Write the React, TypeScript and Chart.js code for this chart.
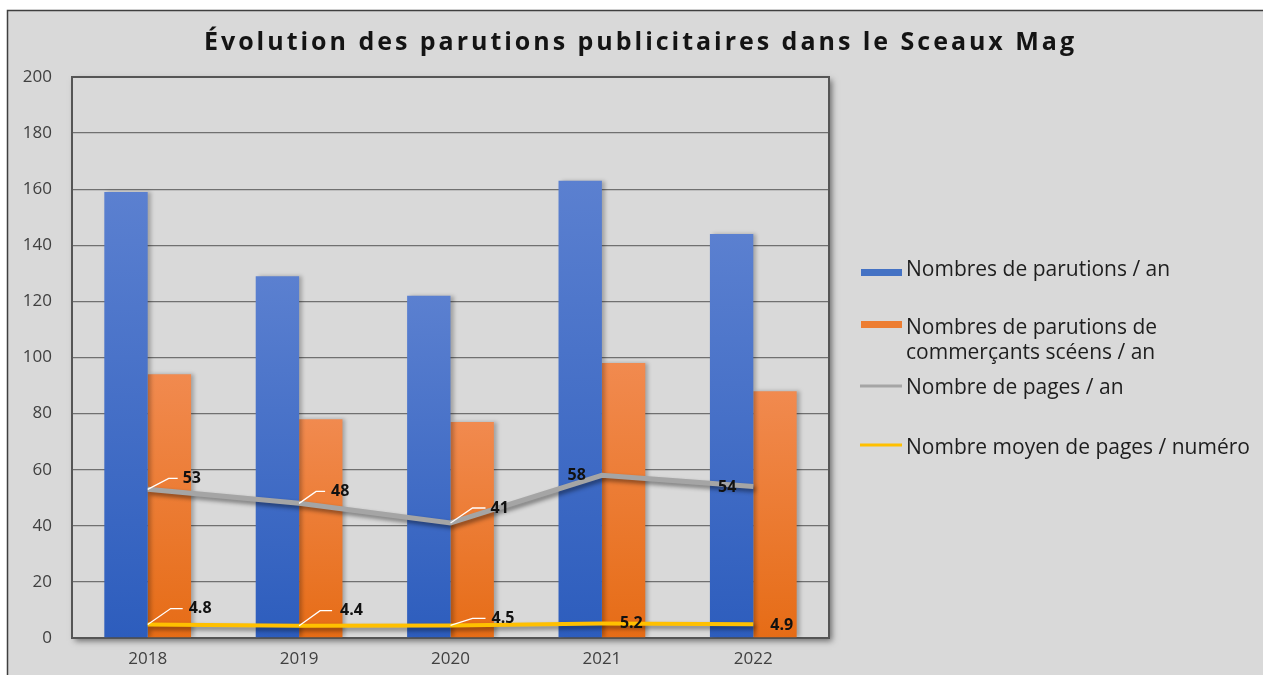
import React, { useEffect, useRef } from "react";
import { Chart, registerables } from "chart.js";

Chart.register(...registerables);

// ---------- Data ----------
const years: string[] = ["2018", "2019", "2020", "2021", "2022"];
const parutionsParAn: number[] = [159, 129, 122, 163, 144];
const parutionsSceens: number[] = [94, 78, 77, 98, 88];
const pagesParAn: number[] = [53, 48, 41, 58, 54];
const pagesParNumero: number[] = [4.8, 4.4, 4.5, 5.2, 4.9];

const yMin = 0;
const yMax = 200;
const yStep = 20;

const TITLE = "Évolution des parutions publicitaires dans le Sceaux Mag";
const seriesNames: string[][] = [
  ["Nombres de parutions / an"],
  ["Nombres de parutions de", "commerçants scéens / an"],
  ["Nombre de pages / an"],
  ["Nombre moyen de pages / numéro"],
];

// ---------- Styles / label placement (kept apart from data) ----------
const FONT = "'Open Sans', 'DejaVu Sans', sans-serif";
const BLUE = "#4472c4";
const ORANGE = "#ed7d31";
const GRAY = "#a5a5a5";
const YELLOW = "#ffc000";

type LabelPos = { dx: number; dy: number; align: CanvasTextAlign; leader?: number[][] };
const pagesAnLabels: LabelPos[] = [
  { dx: 35, dy: -11, align: "left", leader: [[21, -11], [30, -11]] },
  { dx: 32, dy: -12, align: "left", leader: [[17, -12], [26, -12]] },
  { dx: 40, dy: -15, align: "left", leader: [[22, -15], [35, -15]] },
  { dx: -16, dy: 0, align: "right" },
  { dx: -17, dy: 1, align: "right" },
];
const pagesNumLabels: LabelPos[] = [
  { dx: 41, dy: -16, align: "left", leader: [[23, -16], [35, -16]] },
  { dx: 41, dy: -15, align: "left", leader: [[21, -15], [33, -15]] },
  { dx: 41, dy: -7, align: "left", leader: [[22, -7], [35, -7]] },
  { dx: 18, dy: 0, align: "left" },
  { dx: 17, dy: 1, align: "left" },
];

function barGradient(top: string, bottom: string) {
  return (c: any) => {
    const chart = c.chart;
    const ys = chart.scales && chart.scales.y;
    if (!ys || c.raw == null) return top;
    const y0 = ys.getPixelForValue(c.raw);
    const y1 = ys.getPixelForValue(0);
    if (!isFinite(y0) || !isFinite(y1) || y1 - y0 < 1) return top;
    const g = chart.ctx.createLinearGradient(0, y0, 0, y1);
    g.addColorStop(0, top);
    g.addColorStop(1, bottom);
    return g;
  };
}

const decorPlugin = {
  id: "decor",
  beforeDraw(chart: any) {
    const ctx: CanvasRenderingContext2D = chart.ctx;
    const W = chart.width;
    const H = chart.height;
    const { left, top, right, bottom } = chart.chartArea;
    ctx.save();
    ctx.fillStyle = "#ffffff";
    ctx.fillRect(0, 0, W, H);
    ctx.fillStyle = "#d9d9d9";
    ctx.fillRect(8, 10, W, H);
    ctx.strokeStyle = "#3f3f3f";
    ctx.lineWidth = 1.5;
    ctx.strokeRect(7.5, 10.5, W + 20, H + 20);
    // plot area with drop shadow
    ctx.shadowColor = "rgba(0,0,0,0.5)";
    ctx.shadowBlur = 6;
    ctx.shadowOffsetX = 3;
    ctx.shadowOffsetY = 3;
    ctx.fillStyle = "#d9d9d9";
    ctx.fillRect(left, top, right - left, bottom - top);
    ctx.restore();

    // title with letter spacing fitted to reference width
    ctx.save();
    ctx.font = `bold 25px ${FONT}`;
    ctx.fillStyle = "#141414";
    ctx.textBaseline = "alphabetic";
    ctx.textAlign = "left";
    const chars = Array.from(TITLE);
    const natural = ctx.measureText(TITLE).width;
    const target = 870;
    const spacing = Math.max(0, (target - natural) / (chars.length - 1));
    const total = natural + spacing * (chars.length - 1);
    const x = 639 - total / 2;
    for (let i = 0; i < chars.length; i++) {
      const pre = ctx.measureText(chars.slice(0, i).join("")).width;
      ctx.fillText(chars[i], x + pre + spacing * i, 50);
    }
    ctx.restore();

    // legend
    ctx.save();
    ctx.font = `21px ${FONT}`;
    ctx.textBaseline = "alphabetic";
    ctx.textAlign = "left";
    const txt = "#1e1e1e";
    const sx0 = 861;
    const sx1 = 902;
    const tx = 906;
    ctx.fillStyle = BLUE;
    ctx.fillRect(sx0, 269, sx1 - sx0, 7);
    ctx.fillStyle = txt;
    ctx.fillText(seriesNames[0][0], tx, 276);
    ctx.fillStyle = ORANGE;
    ctx.fillRect(sx0, 321, sx1 - sx0, 7);
    ctx.fillStyle = txt;
    ctx.fillText(seriesNames[1][0], tx, 334);
    ctx.fillText(seriesNames[1][1], tx, 359);
    ctx.strokeStyle = GRAY;
    ctx.lineWidth = 3;
    ctx.beginPath();
    ctx.moveTo(sx0 - 1, 386);
    ctx.lineTo(sx1, 386);
    ctx.stroke();
    ctx.fillText(seriesNames[2][0], tx, 394);
    ctx.strokeStyle = YELLOW;
    ctx.beginPath();
    ctx.moveTo(sx0 - 1, 445);
    ctx.lineTo(sx1, 445);
    ctx.stroke();
    ctx.fillText(seriesNames[3][0], tx, 454);
    ctx.restore();
  },
  beforeDatasetsDraw(chart: any) {
    const ctx: CanvasRenderingContext2D = chart.ctx;
    const { left, top, right, bottom } = chart.chartArea;
    ctx.save();
    ctx.strokeStyle = "#555555";
    ctx.lineWidth = 2;
    ctx.strokeRect(left, top, right - left, bottom - top);
    ctx.restore();
  },
  beforeDatasetDraw(chart: any, args: any) {
    const ctx: CanvasRenderingContext2D = chart.ctx;
    ctx.save();
    if (args.meta.type === "line") {
      ctx.shadowColor = "rgba(0,0,0,0.45)";
      ctx.shadowBlur = 4;
      ctx.shadowOffsetX = 2;
      ctx.shadowOffsetY = 3;
    } else {
      ctx.shadowColor = "rgba(0,0,0,0.25)";
      ctx.shadowBlur = 4;
      ctx.shadowOffsetX = 3;
      ctx.shadowOffsetY = 0;
    }
  },
  afterDatasetDraw(chart: any) {
    chart.ctx.restore();
  },
  afterDatasetsDraw(chart: any) {
    const ctx: CanvasRenderingContext2D = chart.ctx;
    const sets: [number, LabelPos[], number[]][] = [
      [2, pagesAnLabels, pagesParAn],
      [3, pagesNumLabels, pagesParNumero],
    ];
    ctx.save();
    ctx.font = `bold 16px ${FONT}`;
    ctx.textBaseline = "middle";
    for (const [di, pos, vals] of sets) {
      const meta = chart.getDatasetMeta(di);
      meta.data.forEach((pt: any, i: number) => {
        const p = pos[i];
        if (p.leader) {
          ctx.strokeStyle = "#ffffff";
          ctx.lineWidth = 1.3;
          ctx.beginPath();
          ctx.moveTo(pt.x, pt.y);
          for (const [lx, ly] of p.leader) ctx.lineTo(pt.x + lx, pt.y + ly);
          ctx.stroke();
        }
        ctx.fillStyle = "#111111";
        ctx.textAlign = p.align;
        ctx.fillText(String(vals[i]), pt.x + p.dx, pt.y + p.dy);
      });
    }
    ctx.restore();
  },
};

export default function App() {
  const ref = useRef<HTMLCanvasElement | null>(null);

  useEffect(() => {
    if (!ref.current) return;
    const chart = new Chart(ref.current, {
      type: "bar",
      data: {
        labels: years,
        datasets: [
          {
            type: "bar",
            label: seriesNames[0].join(" "),
            data: parutionsParAn,
            backgroundColor: barGradient("#5b80d0", "#2d5dbd"),
            borderWidth: 0,
            categoryPercentage: 0.573,
            barPercentage: 1,
            order: 2,
          },
          {
            type: "bar",
            label: seriesNames[1].join(" "),
            data: parutionsSceens,
            backgroundColor: barGradient("#f18a4f", "#e66c16"),
            borderWidth: 0,
            categoryPercentage: 0.573,
            barPercentage: 1,
            order: 2,
          },
          {
            type: "line",
            label: seriesNames[2][0],
            data: pagesParAn,
            borderColor: GRAY,
            borderWidth: 5,
            pointRadius: 0,
            tension: 0,
            order: 1,
          },
          {
            type: "line",
            label: seriesNames[3][0],
            data: pagesParNumero,
            borderColor: YELLOW,
            borderWidth: 4,
            pointRadius: 0,
            tension: 0,
            order: 0,
          },
        ],
      } as any,
      options: {
        responsive: false,
        animation: false,
        layout: { padding: { left: 0, top: 77, right: 434, bottom: 0 } },
        plugins: {
          legend: { display: false },
          title: { display: false },
          tooltip: { enabled: false },
        },
        scales: {
          x: {
            grid: { display: false, drawTicks: false },
            border: { display: false },
            ticks: { color: "#404040", font: { family: FONT, size: 17 }, padding: 11 },
            afterFit: (s: any) => {
              s.height = 37;
            },
          },
          y: {
            min: yMin,
            max: yMax,
            grid: { color: "#707070", lineWidth: 1.3, drawTicks: false },
            border: { display: false },
            ticks: {
              stepSize: yStep,
              color: "#404040",
              font: { family: FONT, size: 17 },
              padding: 20,
            },
            afterFit: (s: any) => {
              s.width = 72;
            },
          },
        },
      } as any,
      plugins: [decorPlugin],
    });
    return () => chart.destroy();
  }, []);

  return (
    <div style={{ position: "fixed", left: 0, top: 0, width: 1263, height: 675, overflow: "hidden" }}>
      <canvas ref={ref} width={1263} height={675} style={{ display: "block" }} />
    </div>
  );
}
